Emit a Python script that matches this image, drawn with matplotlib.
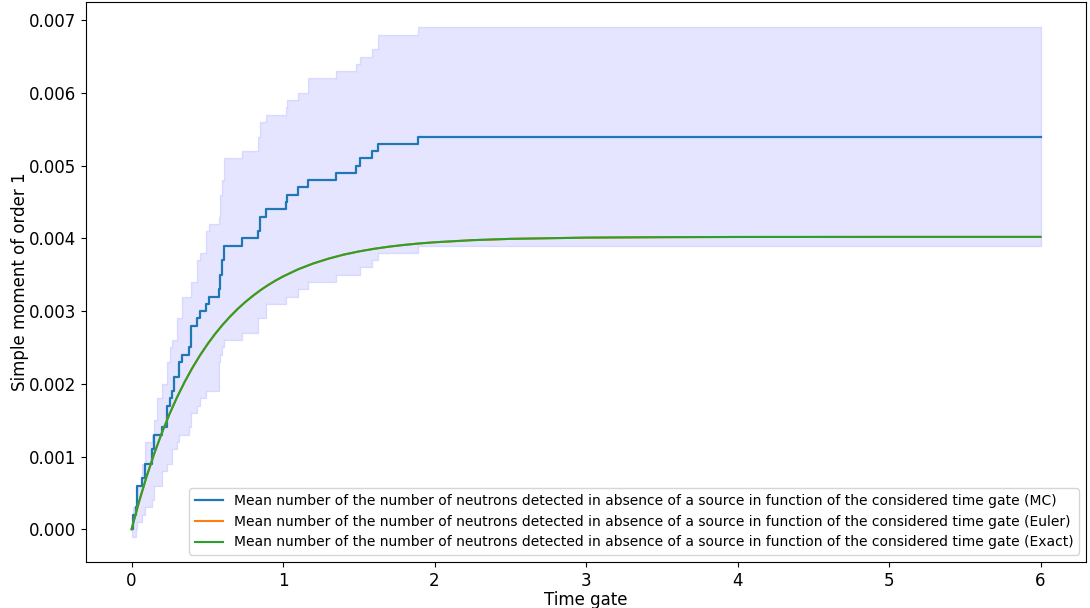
import numpy as np
import matplotlib
matplotlib.use('Agg')
import matplotlib.pyplot as plt

# MC estimate: step change points, mean and spread band
gate_times = [0.000, 0.010, 0.028, 0.037, 0.066, 0.090, 0.136, 0.150, 0.165, 0.204,
              0.233, 0.253, 0.268, 0.280, 0.300, 0.310, 0.336, 0.378, 0.390, 0.435,
              0.455, 0.494, 0.510, 0.575, 0.585, 0.600, 0.613, 0.730, 0.834, 0.850,
              0.890, 1.020, 1.028, 1.100, 1.166, 1.350, 1.480, 1.506, 1.585, 1.625,
              1.890, 6.000]
mc_mean = [0.0000, 0.0002, 0.0003, 0.0006, 0.0007, 0.0009, 0.0011, 0.0013, 0.0013, 0.0014,
           0.0017, 0.0018, 0.0019, 0.0021, 0.0021, 0.0023, 0.0024, 0.0025, 0.0028, 0.0029,
           0.0030, 0.0031, 0.0032, 0.0033, 0.0035, 0.0037, 0.0039, 0.0040, 0.0041, 0.0043,
           0.0044, 0.0045, 0.0046, 0.0047, 0.0048, 0.0049, 0.0050, 0.0051, 0.0052, 0.0053,
           0.0054, 0.0054]
mc_low = [-0.0001, -0.0001, 0.0000, 0.0001, 0.0002, 0.0003, 0.0004, 0.0006, 0.0006, 0.0008,
          0.0009, 0.0009, 0.0011, 0.0011, 0.0012, 0.0013, 0.0013, 0.0014, 0.0016, 0.0017,
          0.0018, 0.0019, 0.0019, 0.0023, 0.0024, 0.0025, 0.0026, 0.0027, 0.0029, 0.0029,
          0.0031, 0.0032, 0.0032, 0.0033, 0.0034, 0.0035, 0.0035, 0.0036, 0.0037, 0.0038,
          0.0039, 0.0039]
mc_high = [0.0001, 0.0003, 0.0004, 0.0006, 0.0009, 0.0012, 0.0013, 0.0015, 0.0018, 0.0020,
           0.0023, 0.0025, 0.0026, 0.0026, 0.0029, 0.0029, 0.0032, 0.0032, 0.0034, 0.0037,
           0.0038, 0.0041, 0.0042, 0.0043, 0.0046, 0.0048, 0.0051, 0.0052, 0.0054, 0.0056,
           0.0057, 0.0058, 0.0059, 0.0060, 0.0062, 0.0063, 0.0064, 0.0065, 0.0066, 0.0068,
           0.0069, 0.0069]

# deterministic curves (Euler and exact lie on top of each other)
curve_t = [0.00, 0.05, 0.10, 0.15, 0.20, 0.25, 0.30, 0.35, 0.40, 0.45, 0.50, 0.55, 0.60,
           0.65, 0.70, 0.75, 0.80, 0.85, 0.90, 0.95, 1.00, 1.10, 1.20, 1.30, 1.40, 1.50,
           1.60, 1.70, 1.80, 1.90, 2.00, 2.25, 2.50, 3.00, 3.50, 4.00, 5.00, 6.00]
exact_vals = [0.000000, 0.000383, 0.000729, 0.001042, 0.001325, 0.001582, 0.001814,
              0.002024, 0.002214, 0.002386, 0.002541, 0.002682, 0.002809, 0.002924,
              0.003029, 0.003123, 0.003208, 0.003286, 0.003356, 0.003419, 0.003476,
              0.003575, 0.003655, 0.003721, 0.003776, 0.003820, 0.003856, 0.003886,
              0.003910, 0.003930, 0.003946, 0.003975, 0.003993, 0.004010, 0.004016,
              0.004019, 0.004020, 0.004020]
euler_vals = list(exact_vals)

lbl = 'Mean number of the number of neutrons detected in absence of a source in function of the considered time gate'

fig = plt.figure(figsize=(10.9, 6.08), dpi=100)
ax = fig.add_axes([0.079, 0.0757, 0.9173, 0.921])

ax.step(gate_times, mc_mean, where='post', label=lbl + ' (MC)', lw=1.6)
ax.plot(curve_t, euler_vals, label=lbl + ' (Euler)')
ax.plot(curve_t, exact_vals, label=lbl + ' (Exact)')
ax.fill_between(gate_times, mc_low, mc_high, step='post', color='b', alpha=0.1)

ax.set_xlabel('Time gate', fontsize=12, labelpad=1)
ax.set_ylabel('Simple moment of order 1', fontsize=12, labelpad=0)
ax.tick_params(labelsize=12)
ax.legend(loc='lower right', fontsize=10)

fig.savefig('out.png', dpi=100)
